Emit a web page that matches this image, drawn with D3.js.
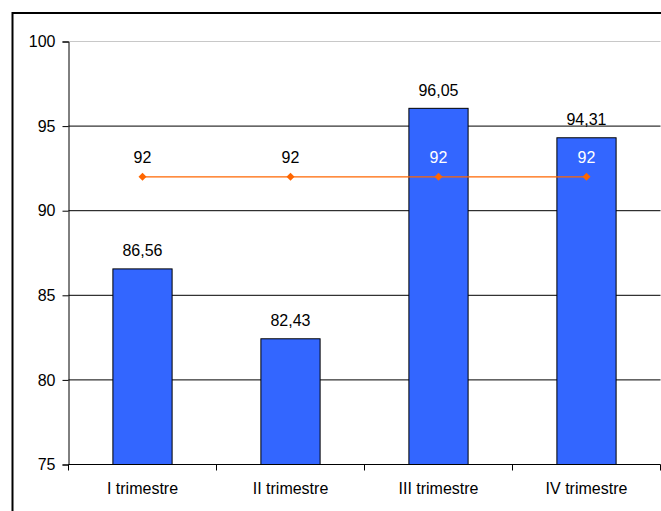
<!DOCTYPE html>
<html><head><meta charset="utf-8">
<script src="https://cdn.jsdelivr.net/npm/d3@7"></script>
<style>body{margin:0;background:#fff}svg{display:block}</style>
</head><body>
<script>
const categories = ["I trimestre", "II trimestre", "III trimestre", "IV trimestre"];
const barValues = [86.56, 82.43, 96.05, 94.31];
const targetValues = [92, 92, 92, 92];
const yTicks = [75, 80, 85, 90, 95, 100];

(function () {
const W = 661, H = 511;
const svg = d3.select("body").append("svg").attr("width", W).attr("height", H);
const font = "Liberation Sans, Arial, sans-serif";
const fs = 16;

// outer frame
svg.append("rect").attr("x", 12.5).attr("y", 13).attr("width", W + 10).attr("height", H + 10)
  .attr("fill", "none").attr("stroke", "#000").attr("stroke-width", 2);

const mLeft = 68.5, mRight = 660.5, mTop = 41.5, mBottom = 464.5;
const x = d3.scaleBand().domain(categories).range([mLeft, mRight]).paddingInner(0).paddingOuter(0);
const y = d3.scaleLinear().domain([75, 100]).range([mBottom, mTop]);

// gridlines
svg.append("g").selectAll("line").data(yTicks.filter(t => t > 75)).join("line")
  .attr("x1", mLeft).attr("x2", mRight)
  .attr("y1", d => y(d)).attr("y2", d => y(d))
  .attr("stroke", d => d === 100 ? "#c8c8c8" : "#000").attr("stroke-width", 1);

// bars
const bw = x.bandwidth() * 0.4;
svg.append("g").selectAll("rect").data(barValues).join("rect")
  .attr("x", (d, i) => x(categories[i]) + x.bandwidth() / 2 - bw / 2)
  .attr("y", d => y(d)).attr("width", bw).attr("height", d => y(75) - y(d))
  .attr("fill", "#3366ff").attr("stroke", "#000").attr("stroke-width", 1);

// bar labels
svg.append("g").selectAll("text").data(barValues).join("text")
  .attr("x", (d, i) => x(categories[i]) + x.bandwidth() / 2)
  .attr("y", d => y(d) - 12.5)
  .attr("text-anchor", "middle").attr("font-family", font).attr("font-size", fs)
  .attr("fill", "#000")
  .text(d => d.toFixed(2).replace(".", ","));

// y axis
const yAxis = d3.axisLeft(y).tickValues(yTicks).tickSize(6).tickPadding(7).tickFormat(d3.format("d"));
const ya = svg.append("g").attr("transform", `translate(${mLeft},0)`).call(yAxis);
ya.select(".domain").attr("stroke", "#000");
ya.selectAll("text").attr("font-family", font).attr("font-size", fs).attr("fill", "#000");

// x axis
const xAxis = d3.axisBottom(x).tickSize(0).tickPadding(18);
const xa = svg.append("g").attr("transform", `translate(0,${mBottom})`).call(xAxis);
xa.select(".domain").attr("stroke", "#000").attr("d", `M${mLeft},0H${mRight}`);
xa.selectAll("text").attr("font-family", font).attr("font-size", fs).attr("fill", "#000");
const bounds = categories.map(c => x(c)).concat([x(categories[categories.length - 1]) + x.bandwidth()]);
xa.append("g").selectAll("line").data(bounds).join("line")
  .attr("x1", d => d).attr("x2", d => d).attr("y1", 0).attr("y2", 6).attr("stroke", "#000");

// target line
const cx = (d, i) => x(categories[i]) + x.bandwidth() / 2;
const line = d3.line().x(cx).y(d => y(d));
svg.append("path").datum(targetValues).attr("d", line)
  .attr("fill", "none").attr("stroke", "#ff6600").attr("stroke-width", 1.2);
svg.append("g").selectAll("path").data(targetValues).join("path")
  .attr("d", d3.symbol().type(d3.symbolDiamond2).size(41))
  .attr("transform", (d, i) => `translate(${cx(d, i)},${y(d)})`)
  .attr("fill", "#ff6600");
svg.append("g").selectAll("text").data(targetValues).join("text")
  .attr("x", cx).attr("y", d => y(d) - 14)
  .attr("text-anchor", "middle").attr("font-family", font).attr("font-size", fs)
  .attr("fill", (d, i) => barValues[i] > d ? "#fff" : "#000")
  .text(d => d);
})();
</script>
</body></html>
